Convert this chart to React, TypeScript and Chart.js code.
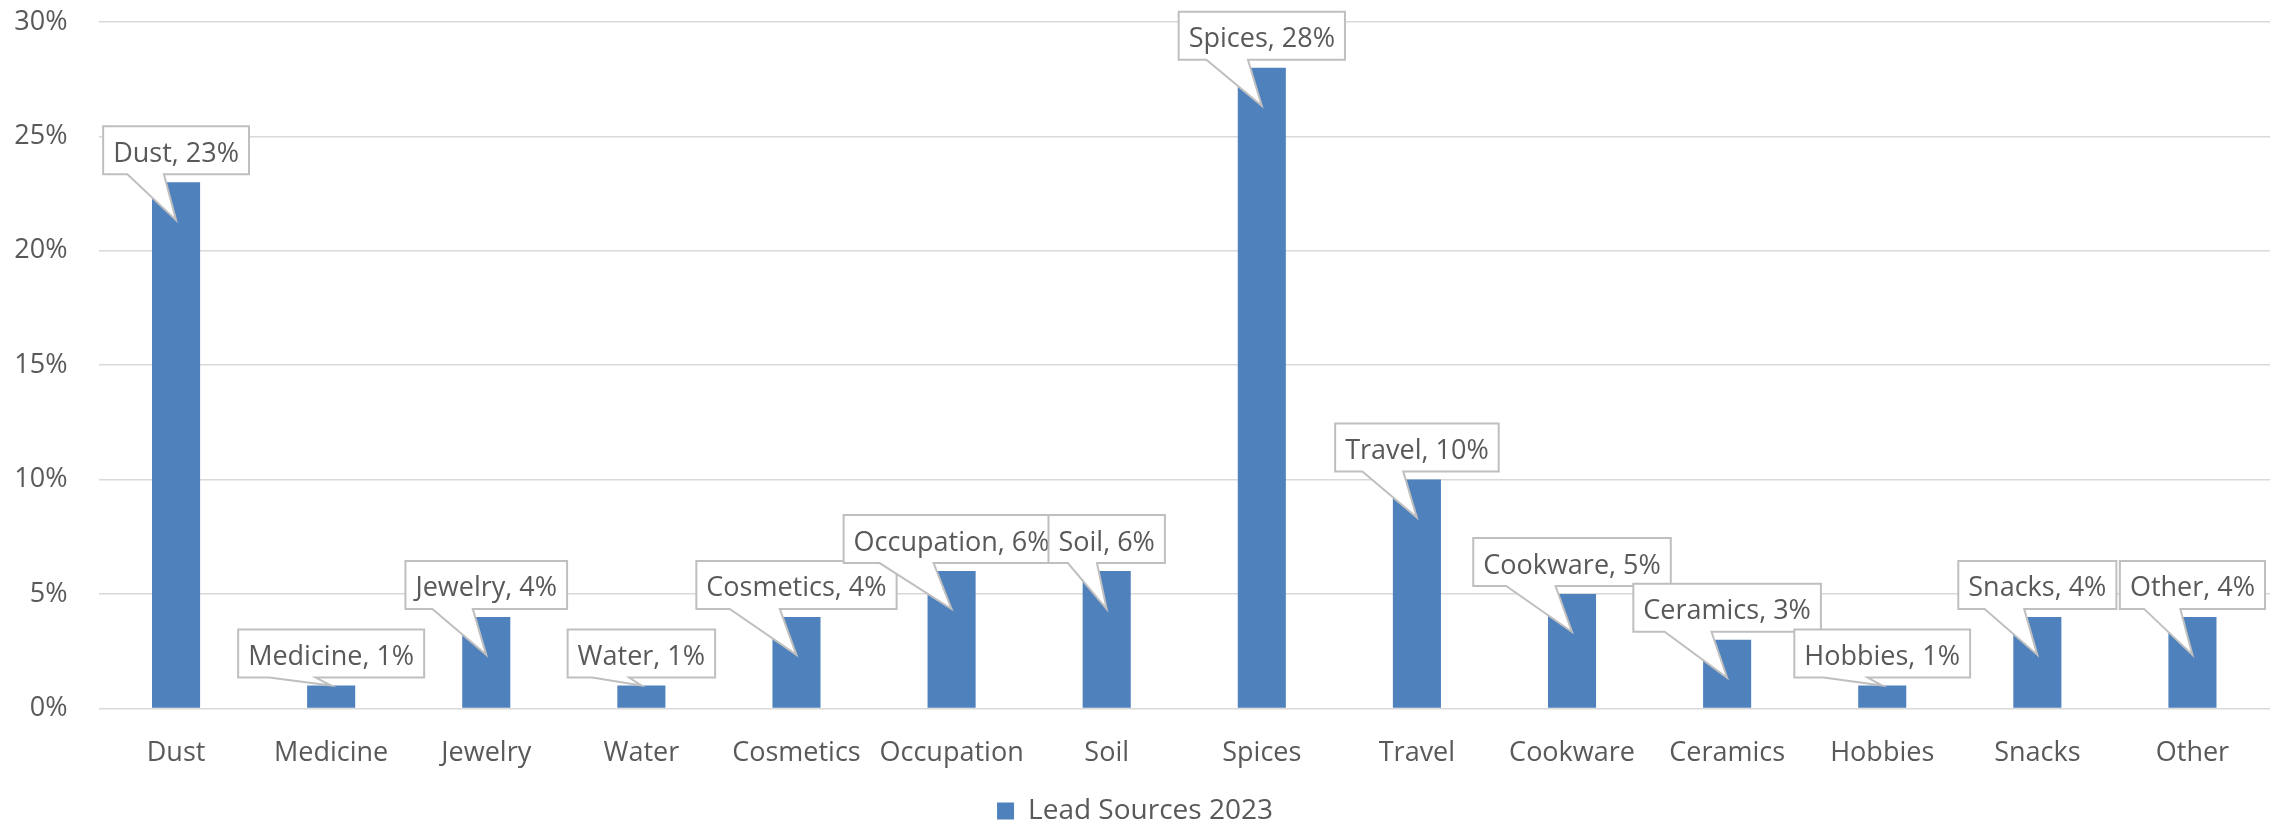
import React, { useEffect, useRef } from "react";
import { Chart, registerables } from "chart.js";

Chart.register(...registerables);

const categories = [
  "Dust", "Medicine", "Jewelry", "Water", "Cosmetics", "Occupation", "Soil",
  "Spices", "Travel", "Cookware", "Ceramics", "Hobbies", "Snacks", "Other",
];
const leadSources2023 = [23, 1, 4, 1, 4, 6, 6, 28, 10, 5, 3, 1, 4, 4];
const seriesName = "Lead Sources 2023";
const yTickLabels = ["0%", "5%", "10%", "15%", "20%", "25%", "30%"];

const FONT_FAMILY = '"Open Sans", sans-serif';
const FONT_SIZE = 27;
const TEXT_COLOR = "#595959";
const BAR_COLOR = "#4f81bd";

const calloutPlugin = {
  id: "callouts",
  afterDatasetsDraw(chart: any) {
    const ctx = chart.ctx as CanvasRenderingContext2D;
    const meta = chart.getDatasetMeta(0);
    ctx.save();
    ctx.font = `${FONT_SIZE}px ${FONT_FAMILY}`;
    meta.data.forEach((bar: any, i: number) => {
      const { x, y, base } = bar.getProps(["x", "y", "base"], true);
      const text = `${categories[i]}, ${leadSources2023[i]}%`;
      const w = ctx.measureText(text).width + 20;
      const h = 48;
      const left = x - w / 2;
      const bottom = y - 8;
      const top = bottom - h;
      const tipY = base - y > 40 ? bottom + 46 : y;
      const bl = left + (w * 2) / 12;
      const br = left + (w * 5) / 12;
      ctx.beginPath();
      ctx.moveTo(left, top);
      ctx.lineTo(left + w, top);
      ctx.lineTo(left + w, bottom);
      ctx.lineTo(br, bottom);
      ctx.lineTo(x, tipY);
      ctx.lineTo(bl, bottom);
      ctx.lineTo(left, bottom);
      ctx.closePath();
      ctx.fillStyle = "#ffffff";
      ctx.fill();
      ctx.lineWidth = 2;
      ctx.strokeStyle = "#bfbfbf";
      ctx.lineJoin = "miter";
      ctx.stroke();
      ctx.fillStyle = TEXT_COLOR;
      ctx.textAlign = "center";
      ctx.textBaseline = "alphabetic";
      ctx.fillText(text, x, top + 35.5);
    });
    ctx.restore();
  },
};

export default function App() {
  const canvasRef = useRef<HTMLCanvasElement | null>(null);

  useEffect(() => {
    document.body.style.margin = "0";
    const canvas = canvasRef.current;
    if (!canvas) return;
    const font = { family: FONT_FAMILY, size: FONT_SIZE };
    const chart = new Chart(canvas, {
      type: "bar",
      data: {
        labels: categories,
        datasets: [
          {
            label: seriesName,
            data: leadSources2023,
            backgroundColor: BAR_COLOR,
            borderWidth: 0,
            barPercentage: 0.31,
            categoryPercentage: 1,
          },
        ],
      },
      options: {
        animation: false,
        responsive: false,
        devicePixelRatio: 1,
        layout: { padding: { top: 22, right: 5, left: 0, bottom: -6 } },
        scales: {
          x: {
            grid: { display: false },
            border: { display: false },
            ticks: {
              font,
              color: TEXT_COLOR,
              padding: 21,
              autoSkip: false,
              maxRotation: 0,
              minRotation: 0,
            },
            afterFit(s: any) {
              s.height = 82.6;
              s.paddingLeft = 0;
              s.paddingRight = 0;
            },
          },
          y: {
            min: 0,
            max: 30,
            ticks: {
              stepSize: 5,
              font,
              color: TEXT_COLOR,
              padding: 31,
              callback: (_v: any, i: number) => yTickLabels[i],
            },
            grid: { color: "#d9d9d9", lineWidth: 1.5, drawTicks: false },
            border: { display: false },
            afterFit(s: any) {
              s.width = 98.5;
              s.paddingTop = 0;
              s.paddingBottom = 0;
            },
          },
        },
        plugins: {
          legend: {
            position: "bottom",
            labels: {
              boxWidth: 17,
              boxHeight: 17,
              padding: 6,
              font: { family: FONT_FAMILY, size: 28 },
              color: TEXT_COLOR,
            },
          },
          tooltip: { enabled: false },
        },
      },
      plugins: [calloutPlugin],
    });
    return () => chart.destroy();
  }, []);

  return (
    <canvas
      ref={canvasRef}
      width={2275}
      height={829}
      style={{ display: "block", width: 2275, height: 829 }}
    />
  );
}
